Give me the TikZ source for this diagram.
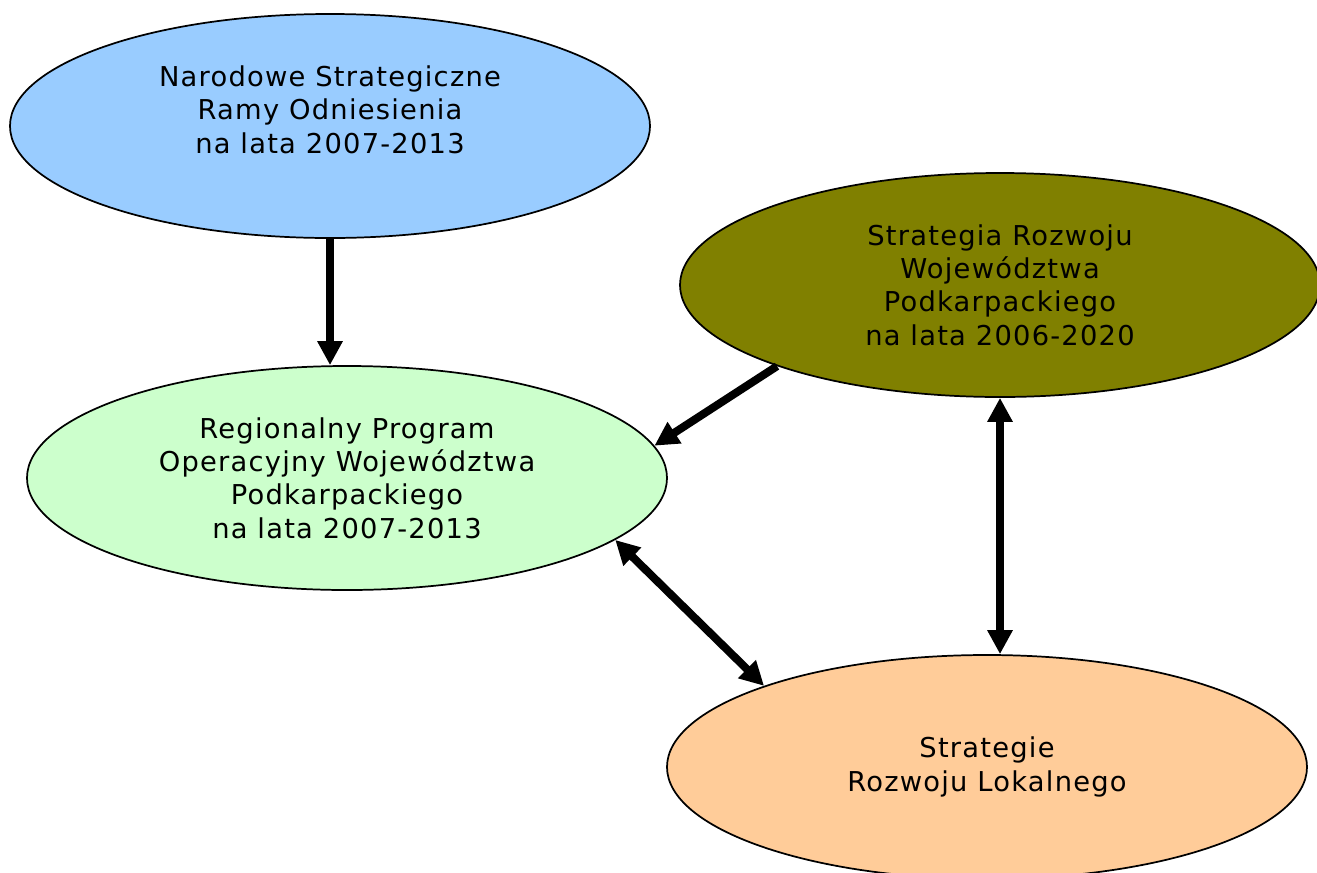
\documentclass[tikz,border=0pt]{standalone}
\usepackage{fontspec}
\setmainfont[LetterSpace=4.5]{DejaVu Sans}
\usepackage{xcolor}
\usetikzlibrary{arrows.meta,shapes.geometric}
\definecolor{nsrblue}{HTML}{99CCFF}
\definecolor{srolive}{HTML}{808000}
\definecolor{rpogreen}{HTML}{CCFFCC}
\definecolor{srlorange}{HTML}{FFCC99}

\begin{document}
\begin{tikzpicture}[
  x=0.75pt, y=-0.75pt,
  oval/.style={ellipse, draw, line width=1.3pt, inner sep=0pt, minimum width=480pt, minimum height=168pt, align=center, font=\fontsize{20.5}{25}\selectfont},
  link/.style={line width=6pt, -{Triangle[length=18pt,width=18pt]}},
  twoway/.style={line width=6pt, {Triangle[length=18pt,width=18pt]}-{Triangle[length=18pt,width=18pt]}}
]
\useasboundingbox (0,0) rectangle (1317,872);
\node[oval, fill=nsrblue] (nsro) at (330,126) {Narodowe Strategiczne\\Ramy Odniesienia\\na lata 2007-2013\\\mbox{}};
\node[oval, fill=srolive] (srwp) at (1000,285) {Strategia Rozwoju\\Województwa\\Podkarpackiego\\na lata 2006-2020};
\node[oval, fill=rpogreen] (rpo) at (347,478) {Regionalny Program\\Operacyjny Województwa\\Podkarpackiego\\na lata 2007-2013};
\node[oval, fill=srlorange] (srl) at (987,767) {Strategie\\Rozwoju Lokalnego};
\draw[link] (nsro.south) -- (nsro.south |- rpo.north);
\draw[link] (srwp.200.5) -- (rpo.6.4);
\draw[twoway] (srwp.south) -- (srwp.south |- srl.north);
\draw[twoway] (rpo.-13.7) -- (srl.160.2);
\end{tikzpicture}
\end{document}
